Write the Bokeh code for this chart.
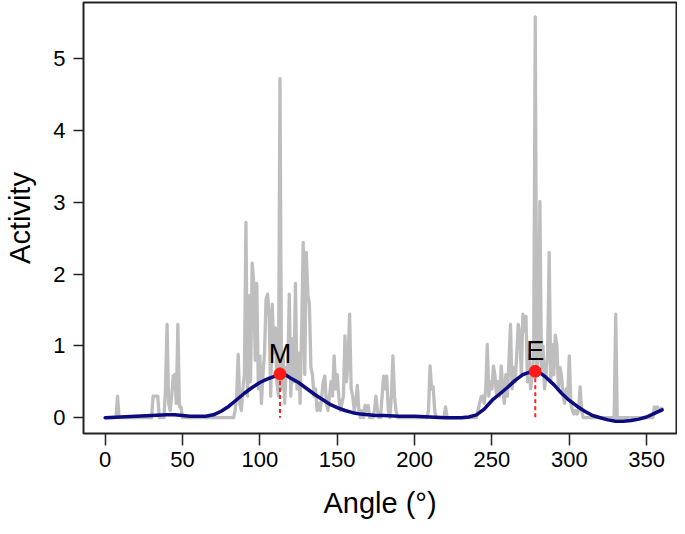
from bokeh.plotting import figure
from bokeh.models import Range1d, FixedTicker
from bokeh.embed import file_html
from bokeh.resources import INLINE
from bokeh.core.properties import value

# ---- data ----
angle = list(range(0, 361))
activity = [
    0, 0, 0, 0, 0, 0, 0, 0, 0.3, 0,
    0, 0, 0, 0, 0, 0, 0, 0, 0, 0,
    0, 0, 0, 0, 0, 0, 0, 0, 0, 0,
    0, 0.3, 0.3, 0.3, 0.3, 0, 0, 0, 0, 0.4,
    1.3, 0.2, 0.1, 0.3, 0.58, 0.6, 0.2, 1.3, 0.15, 0.15,
    0, 0, 0, 0, 0, 0, 0, 0, 0, 0,
    0, 0, 0, 0, 0, 0, 0, 0, 0, 0,
    0, 0, 0, 0, 0, 0, 0, 0, 0, 0,
    0, 0, 0, 0, 0.1, 0.3, 0.88, 0.2, 0.1, 0.4,
    0.6, 2.72, 0.3, 1.7, 0.5, 2.15, 1.9, 0.8, 1.87, 0.4,
    0.86, 0.2, 0.6, 0.9, 1.65, 1.72, 1.4, 0.3, 1.58, 0.9,
    1.25, 0.5, 0.3, 4.72, 0.4, 0.9, 0.2, 0.7, 0.6, 1.72,
    0.3, 1.1, 0.5, 1.87, 0.4, 0.9, 0.2, 1.2, 2.44, 0.6,
    2.3, 1.72, 1.58, 0.7, 0.6, 0.3, 0.4, 0.1, 0.2, 0.1,
    0.3, 0.5, 0.58, 0.2, 0.1, 0.3, 0.5, 0.3, 0.86, 0.4,
    0.6, 0.3, 0.1, 0.2, 0.3, 1.14, 0.5, 0.8, 1.44, 0.4,
    0.3, 0.1, 0.2, 0.45, 0.1, 0, 0.1, 0, 0.17, 0.1,
    0.17, 0, 0, 0, 0.1, 0.3, 0.1, 0, 0, 0.3,
    0.58, 0.4, 0.58, 0.1, 0, 0.3, 0.86, 0.3, 0.1, 0,
    0, 0, 0, 0, 0, 0, 0, 0, 0, 0,
    0, 0, 0, 0, 0, 0, 0, 0, 0, 0.1,
    0.72, 0.4, 0.43, 0.1, 0, 0, 0, 0, 0, 0,
    0.15, 0, 0, 0, 0, 0, 0, 0, 0, 0,
    0, 0, 0, 0, 0, 0, 0, 0, 0, 0,
    0, 0.1, 0.2, 0.29, 0.3, 0.2, 0.4, 1.02, 0.3, 0.5,
    0.4, 0.72, 0.58, 0.3, 0.5, 0.3, 0.72, 0.4, 0.2, 0.6,
    0.3, 0.8, 1.3, 0.4, 0.7, 0.5, 0.86, 1.3, 1.17, 0.6,
    1.44, 1.2, 1.41, 0.5, 0.86, 0.4, 0.6, 0.9, 5.58, 0.6,
    0.9, 3.01, 0.7, 1.0, 0.4, 0.6, 0.9, 2.3, 0.5, 1.02,
    0.6, 1.15, 1.0, 0.4, 0.7, 0.58, 0.3, 0.2, 0.4, 0.3,
    0.86, 0.2, 0.1, 0.05, 0.1, 0.05, 0.1, 0.43, 0.1, 0,
    0, 0, 0, 0, 0, 0, 0, 0, 0, 0,
    0, 0, 0, 0, 0, 0, 0, 0, 0, 0,
    1.44, 0, 0, 0, 0, 0, 0, 0, 0, 0,
    0, 0, 0, 0, 0, 0, 0, 0, 0, 0,
    0, 0, 0, 0, 0, 0.15, 0.1, 0.15, 0.1, 0.1,
    0.15,
]

curve_angle = [0, 10, 20, 30, 40, 45, 50, 55, 60, 65, 70, 75, 80, 85, 90, 95,
               100, 105, 110, 113, 117, 120, 125, 130, 135, 140, 145, 150, 155,
               160, 165, 170, 175, 180, 190, 200, 210, 220, 230, 235, 240, 245,
               250, 255, 260, 265, 270, 274, 278, 282, 285, 290, 295, 300, 305,
               310, 315, 320, 325, 330, 335, 340, 345, 350, 355, 360]
curve_value = [0.0, 0.01, 0.02, 0.03, 0.04, 0.04, 0.03, 0.02, 0.02, 0.02, 0.04,
               0.09, 0.16, 0.25, 0.34, 0.42, 0.49, 0.54, 0.58, 0.61, 0.59, 0.55,
               0.49, 0.41, 0.33, 0.26, 0.19, 0.14, 0.10, 0.07, 0.05, 0.04, 0.03,
               0.03, 0.02, 0.02, 0.01, 0.0, 0.0, 0.01, 0.04, 0.12, 0.24, 0.33,
               0.42, 0.52, 0.60, 0.63, 0.645, 0.61, 0.56, 0.46, 0.34, 0.24, 0.16,
               0.09, 0.03, 0.0, -0.03, -0.05, -0.05, -0.04, -0.02, 0.01, 0.06, 0.11]

peak_label = ["M", "E"]
peak_angle = [113, 278]
peak_value = [0.61, 0.645]
peak_base = [0, 0]

x_ticks = [0, 50, 100, 150, 200, 250, 300, 350]
y_ticks = [0, 1, 2, 3, 4, 5]

FONT = "Liberation Sans"

p = figure(width=677, height=526, output_backend="svg", toolbar_location=None,
           x_range=Range1d(-14, 369.3), y_range=Range1d(-0.22, 5.78),
           min_border_left=83, min_border_right=1, min_border_top=2,
           min_border_bottom=93)
p.background_fill_color = "white"
p.border_fill_color = "white"
p.grid.visible = False
p.outline_line_color = "#222222"
p.outline_line_width = 2

p.line(angle, activity, line_color="#bebebe", line_width=3.3, line_join="round")
p.segment(x0=peak_angle, y0=peak_value, x1=peak_angle, y1=peak_base,
          line_color="#ff2020", line_width=2, line_dash="4 3")
p.line(curve_angle, curve_value, line_color="#0c0c80", line_width=3.5,
       line_join="round", line_cap="round")
p.scatter(peak_angle, peak_value, size=12, fill_color="#ff1a1a",
          line_color="#ff1a1a")
p.text(x=peak_angle, y=peak_value, text=peak_label, text_align="center",
       text_baseline="alphabetic", y_offset=-20, text_font=value(FONT),
       text_font_size="27px", text_color="black")

for ax in (p.xaxis, p.yaxis):
    ax.axis_line_color = None
    ax.major_tick_in = 0
    ax.minor_tick_in = 0
    ax.minor_tick_out = 0
    ax.major_tick_line_color = "#222222"
    ax.major_tick_line_width = 1.5
    ax.major_label_text_font = FONT
    ax.major_label_text_font_size = "22px"
    ax.major_label_text_color = "black"
    ax.axis_label_text_font = FONT
    ax.axis_label_text_font_size = "29px"
    ax.axis_label_text_font_style = "normal"
    ax.axis_label_text_color = "black"

p.xaxis.ticker = FixedTicker(ticks=x_ticks)
p.yaxis.ticker = FixedTicker(ticks=y_ticks)
p.xaxis.major_tick_out = 12
p.yaxis.major_tick_out = 10
p.xaxis.major_label_standoff = 6
p.yaxis.major_label_standoff = 8
p.xaxis.axis_label = "Angle (°)"
p.yaxis.axis_label = "Activity"
p.xaxis.axis_label_standoff = 17
p.yaxis.axis_label_standoff = 14

open("out.html", "w").write(file_html(p, INLINE))
